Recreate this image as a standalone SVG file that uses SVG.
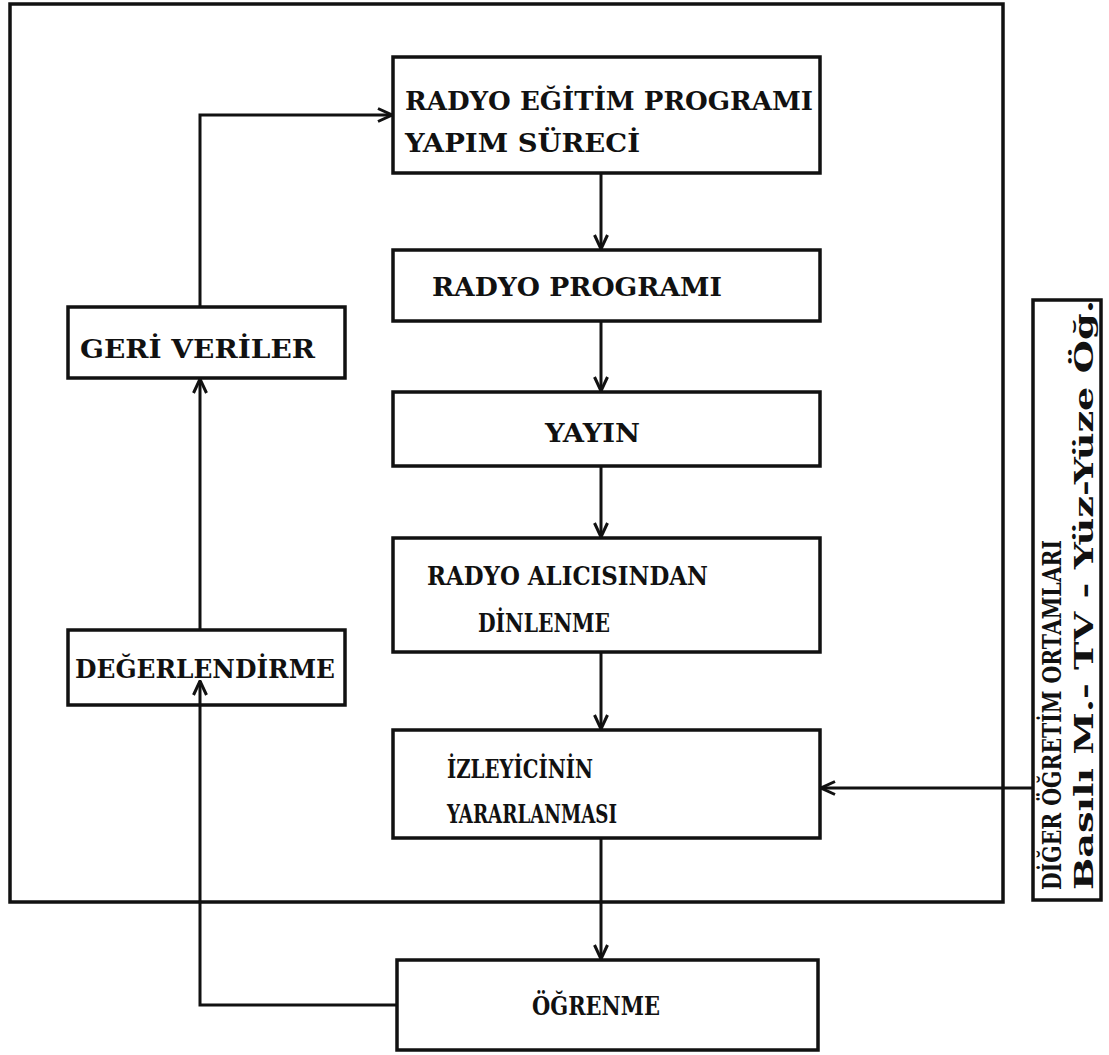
<svg xmlns="http://www.w3.org/2000/svg" width="1109" height="1055" viewBox="0 0 1109 1055">
<style>
.box{fill:none;stroke:#111;stroke-width:3.5}
.ln{fill:none;stroke:#111;stroke-width:3}
.t{font-family:"DejaVu Serif","Liberation Serif",serif;font-weight:bold;font-size:26px;fill:#111}
</style>
<defs>
<marker id="ah" viewBox="0 0 16 16" refX="15" refY="8" markerWidth="16" markerHeight="16" markerUnits="userSpaceOnUse" orient="auto">
<path d="M1,1.5 L15,8 L1,14.5" fill="none" stroke="#111" stroke-width="3"/>
</marker>
</defs>
<rect width="1109" height="1055" fill="#fff"/>
<rect class="box" x="10" y="4" width="993" height="898"/>
<g id="connectors">
<line class="ln" x1="601" y1="173" x2="601" y2="249" marker-end="url(#ah)"/>
<line class="ln" x1="601" y1="321" x2="601" y2="391" marker-end="url(#ah)"/>
<line class="ln" x1="601" y1="466" x2="601" y2="537" marker-end="url(#ah)"/>
<line class="ln" x1="601" y1="652" x2="601" y2="729" marker-end="url(#ah)"/>
<line class="ln" x1="601" y1="838" x2="601" y2="959" marker-end="url(#ah)"/>
<polyline class="ln" points="397,1005 200,1005 200,681" marker-end="url(#ah)"/>
<line class="ln" x1="200" y1="630" x2="200" y2="379" marker-end="url(#ah)"/>
<polyline class="ln" points="200,307 200,115 392,115" marker-end="url(#ah)"/>
<line class="ln" x1="1033" y1="788" x2="821" y2="788" marker-end="url(#ah)"/>
</g>
<g id="n1"><rect class="box" x="393" y="57" width="427" height="116"/>
<text class="t" x="405" y="110" textLength="408" lengthAdjust="spacingAndGlyphs">RADYO EĞİTİM PROGRAMI</text>
<text class="t" x="405" y="152" textLength="235" lengthAdjust="spacingAndGlyphs">YAPIM SÜRECİ</text></g>
<g id="n2"><rect class="box" x="393" y="250" width="427" height="71"/>
<text class="t" x="432" y="296" textLength="290" lengthAdjust="spacingAndGlyphs">RADYO PROGRAMI</text></g>
<g id="n3"><rect class="box" x="393" y="392" width="427" height="74"/>
<text class="t" x="545" y="442" textLength="95" lengthAdjust="spacingAndGlyphs">YAYIN</text></g>
<g id="n4"><rect class="box" x="393" y="538" width="427" height="114"/>
<text class="t" x="427" y="585" textLength="281" lengthAdjust="spacingAndGlyphs">RADYO ALICISINDAN</text>
<text class="t" x="478" y="632" textLength="132" lengthAdjust="spacingAndGlyphs">DİNLENME</text></g>
<g id="n5"><rect class="box" x="393" y="730" width="427" height="108"/>
<text class="t" x="447" y="778" textLength="146" lengthAdjust="spacingAndGlyphs">İZLEYİCİNİN</text>
<text class="t" x="447" y="823" textLength="170" lengthAdjust="spacingAndGlyphs">YARARLANMASI</text></g>
<g id="n6"><rect class="box" x="397" y="960" width="421" height="90"/>
<text class="t" x="532" y="1015" textLength="128" lengthAdjust="spacingAndGlyphs">ÖĞRENME</text></g>
<g id="n7"><rect class="box" x="68" y="307" width="277" height="71"/>
<text class="t" x="80" y="358" textLength="235" lengthAdjust="spacingAndGlyphs">GERİ VERİLER</text></g>
<g id="n8"><rect class="box" x="68" y="630" width="277" height="75"/>
<text class="t" x="75" y="678" textLength="260" lengthAdjust="spacingAndGlyphs">DEĞERLENDİRME</text></g>
<g id="n9"><rect class="box" x="1033" y="300" width="68" height="600"/>
<text class="t" transform="translate(1061,890) rotate(-90)" textLength="350" lengthAdjust="spacingAndGlyphs">DİĞER ÖĞRETİM ORTAMLARI</text>
<text class="t" transform="translate(1093,890) rotate(-90)" textLength="590" lengthAdjust="spacingAndGlyphs">Basılı M.- TV - Yüz-Yüze Öğ.</text></g>
</svg>
